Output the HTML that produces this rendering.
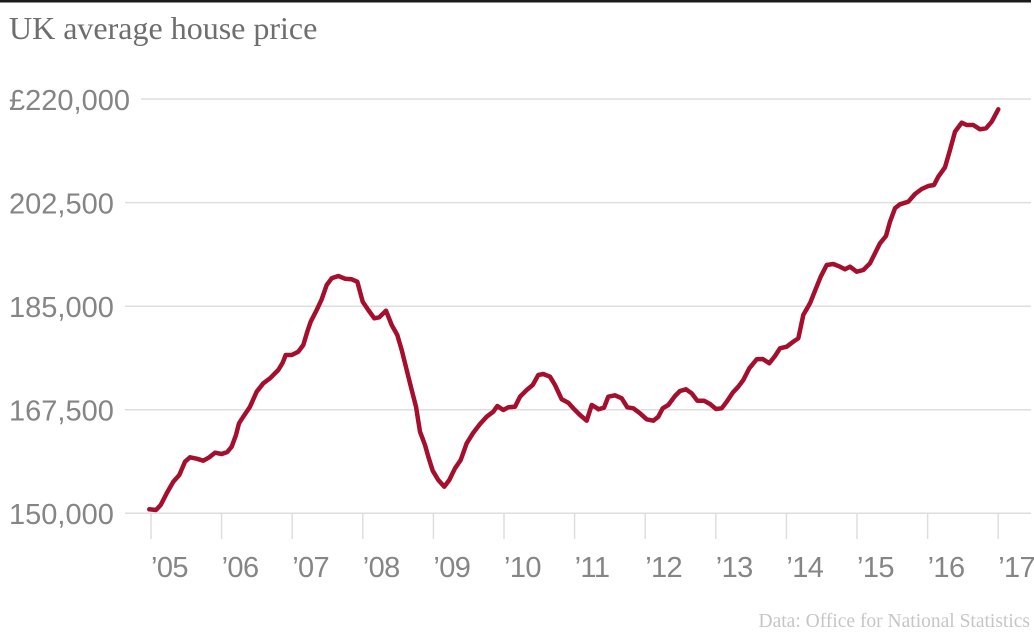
<!DOCTYPE html>
<html>
<head>
<meta charset="utf-8">
<style>
  html,body{margin:0;padding:0;background:#fff;}
  body{width:1034px;height:632px;overflow:hidden;position:relative;}
  svg{display:block;}
</style>
</head>
<body>
<svg width="1034" height="632" viewBox="0 0 1034 632" xmlns="http://www.w3.org/2000/svg">
  <rect x="0" y="0" width="1031" height="2.5" fill="#1b1b1b"/>
  <text x="9" y="39" font-family="Liberation Serif, serif" font-size="32" fill="#6e6e6e">UK average house price</text>

  <!-- gridlines -->
  <g stroke="#dedede" stroke-width="1.5">
    <line x1="141" y1="99" x2="1031" y2="99"/>
    <line x1="125" y1="202.6" x2="1031" y2="202.6"/>
    <line x1="125" y1="306.2" x2="1031" y2="306.2"/>
    <line x1="125" y1="409.8" x2="1031" y2="409.8"/>
    <line x1="125" y1="513.3" x2="1031" y2="513.3"/>
  </g>
  <!-- ticks -->
  <g stroke="#dedede" stroke-width="1.5">
    <line x1="151" y1="513" x2="151" y2="539"/>
    <line x1="221.6" y1="513" x2="221.6" y2="539"/>
    <line x1="292.2" y1="513" x2="292.2" y2="539"/>
    <line x1="362.8" y1="513" x2="362.8" y2="539"/>
    <line x1="433.4" y1="513" x2="433.4" y2="539"/>
    <line x1="504" y1="513" x2="504" y2="539"/>
    <line x1="574.6" y1="513" x2="574.6" y2="539"/>
    <line x1="645.2" y1="513" x2="645.2" y2="539"/>
    <line x1="715.8" y1="513" x2="715.8" y2="539"/>
    <line x1="786.4" y1="513" x2="786.4" y2="539"/>
    <line x1="857" y1="513" x2="857" y2="539"/>
    <line x1="927.6" y1="513" x2="927.6" y2="539"/>
    <line x1="998.2" y1="513" x2="998.2" y2="539"/>
  </g>

  <!-- y labels -->
  <g font-family="Liberation Sans, sans-serif" font-size="29" fill="#858585">
    <text x="9" y="110">£220,000</text>
    <text x="9" y="213.5">202,500</text>
    <text x="9" y="317">185,000</text>
    <text x="9" y="420.5">167,500</text>
    <text x="9" y="524">150,000</text>
  </g>

  <!-- x labels -->
  <g font-family="Liberation Sans, sans-serif" font-size="29" fill="#858585" letter-spacing="-0.6">
    <text x="151" y="577">’05</text>
    <text x="221.6" y="577">’06</text>
    <text x="292.2" y="577">’07</text>
    <text x="362.8" y="577">’08</text>
    <text x="433.4" y="577">’09</text>
    <text x="504" y="577">’10</text>
    <text x="574.6" y="577">’11</text>
    <text x="645.2" y="577">’12</text>
    <text x="715.8" y="577">’13</text>
    <text x="786.4" y="577">’14</text>
    <text x="857" y="577">’15</text>
    <text x="927.6" y="577">’16</text>
    <text x="998.2" y="577">’17</text>
  </g>

  <polyline fill="none" stroke="#a50f2e" stroke-width="4.5" stroke-linejoin="round" stroke-linecap="round"
    points="149.3,509.3 156,510 160.7,505 166.7,493.3 173.3,481.7 179.3,475 185,461.7 190,457.3 196.7,458.7 203.3,460.7 209.3,457.3 215,452.7 221.7,454 227.3,452 231.7,446.7 236,435 239,423.3 243.3,416.7 250,406.7 256.7,391.7 263.3,383.3 270,378.3 278.3,370 282.7,362.7 285.7,355 291.7,355 298.3,351.7 303.3,345 307.3,331.7 310.7,321.7 316.7,310 321.7,299.3 326.7,285 331.7,278.3 338.3,276 345,278.7 351.7,279.3 357.3,281.7 362.7,301.7 368.3,310 374.3,318.3 379.3,317.3 386,310.7 391.7,325 397.3,335 401.7,350 406.7,370 411.7,390 416,406.7 420,431.7 425,445 428.3,456.7 432.7,470.7 438.3,480 444.3,486.7 449.3,480 455,468.3 460.7,460 466.7,443.3 473.3,432.7 480,424 486.7,416.7 493.3,411.7 497.3,406 503.3,410 508.3,407.3 515,406.7 520,396.7 526.7,390 532.7,385 538.3,375 543.3,374 550,376.7 555,385 561.7,399.3 568.3,402.7 573.3,408.3 580,415 586.7,420.7 591.7,405 597.3,408.3 598.3,409.3 604,407.7 608.3,396.7 615,395.3 621.7,398.3 627.3,407.3 633.3,408.3 640,413.3 646.7,419.3 653.3,420.7 658.3,416.7 662.7,408.3 668.3,405 675,396 680,391 686,389.3 691.7,393.3 697.3,400.7 704,400.7 710,404 716,409 721.7,408.3 726.7,401.7 732.7,392.7 738.3,386.7 743.3,380 749.3,368.3 756.7,359.3 762.7,359 769.3,363.3 775,356 780,348.3 786.7,346.7 793.3,341.7 798.3,338.3 803.3,315 810,303.3 816,288.3 820.7,276.7 826.7,265 833.3,264 840,266.7 845,269.3 850,266.7 856.7,271.7 863.3,270 870,263.3 875,253.3 880,243.3 886,236 890,221.7 895,208.3 900,204.3 908.3,201.7 915,194 921.7,189 928.3,186 934,185 938.3,176.7 945,167.3 950,150 955,131.7 961.7,122.7 966.7,125 973.3,125 980,129.3 986,128.3 991.7,121.7 998.3,109.3"/>

  <text x="1030" y="627" text-anchor="end" font-family="Liberation Serif, serif" font-size="19.5" fill="#c6c6c6">Data: Office for National Statistics</text>
</svg>
</body>
</html>
